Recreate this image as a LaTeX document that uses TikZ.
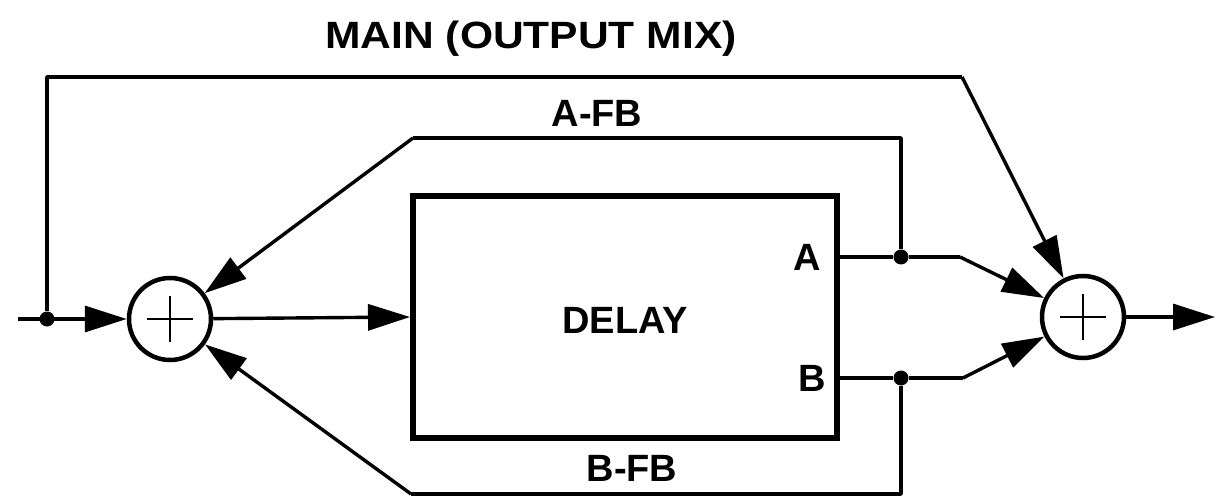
\documentclass[tikz,border=0pt]{standalone}
\usepackage{fontspec}
\setmainfont{Liberation Sans}
\usetikzlibrary{arrows.meta}
\tikzset{
  wire/.style={line width=3.4pt, line join=round},
  arr/.style={wire, -{Triangle[length=42pt, width=26pt]}},
  summer/.style={circle, draw, line width=4.5pt, minimum size=82pt, inner sep=0pt},
  delaybox/.style={rectangle, draw, line width=6pt, minimum width=424pt, minimum height=242pt, inner sep=0pt},
  junction/.style={circle, fill, minimum size=15pt, inner sep=0pt},
  lbl/.style={font=\fontsize{38}{40}\selectfont\bfseries, inner sep=0pt},
}
\begin{document}
\begin{tikzpicture}[x=1pt, y=-1pt]
\useasboundingbox (0,0) rectangle (1216,497);

% main blocks
\node[summer] (sumL) at (170,319) {};
\node[summer] (sumR) at (1083,317) {};
\node[delaybox] (delay) at (625,317) {};
\node[lbl] (delaytxt) at (625,320) {DELAY};
\node[lbl] (tapA) at (807,257) {A};
\node[lbl] (tapB) at (812,378) {B};

% plus signs in the summing junctions
\foreach \s in {sumL,sumR}{
  \draw[line width=2.8pt] ([xshift=-23pt]\s.center) -- ([xshift=23pt]\s.center);
  \draw[line width=2.8pt] ([yshift=-23pt]\s.center) -- ([yshift=23pt]\s.center);
}

% routing points
\coordinate (in) at (18,319);
\node[junction] (jin) at (47,319) {};
\coordinate (mainL) at (47,77);
\coordinate (mainR) at (962,77);
\coordinate (outA) at (837,257);
\coordinate (outB) at (837,378);
\node[junction] (jA) at (901,257) {};
\node[junction] (jB) at (901,378) {};
\coordinate (bendA) at (960,257);
\coordinate (bendB) at (963,378);
\coordinate (fbAtop) at (901,138);
\coordinate (fbAcorner) at (413,138);
\coordinate (fbBbot) at (901,494);
\coordinate (fbBcorner) at (411,494);
\coordinate (out) at (1215,317);

% signal path
\draw[arr] (in) -- (sumL);
\draw[arr] (sumL) -- (delay.west);
\draw[wire] (outA) -- (jA) -- (bendA);
\draw[arr] (bendA) -- (sumR);
\draw[wire] (outB) -- (jB) -- (bendB);
\draw[arr] (bendB) -- (sumR);
\draw[arr] (sumR) -- (out);

% direct (dry) path
\draw[wire] (jin) -- (mainL) -- (mainR);
\draw[arr] (mainR) -- (sumR);

% feedback paths
\draw[wire] (jA) -- (fbAtop) -- (fbAcorner);
\draw[arr] (fbAcorner) -- (sumL);
\draw[wire] (jB) -- (fbBbot) -- (fbBcorner);
\draw[arr] (fbBcorner) -- (sumL);

% labels
\node[lbl] (mainlbl) at (531,39) {\scalebox{1.12}[1]{MAIN (OUTPUT MIX)}};
\node[lbl] (afb) at (597,113) {A-FB};
\node[lbl] (bfb) at (632,468) {B-FB};
\end{tikzpicture}
\end{document}
